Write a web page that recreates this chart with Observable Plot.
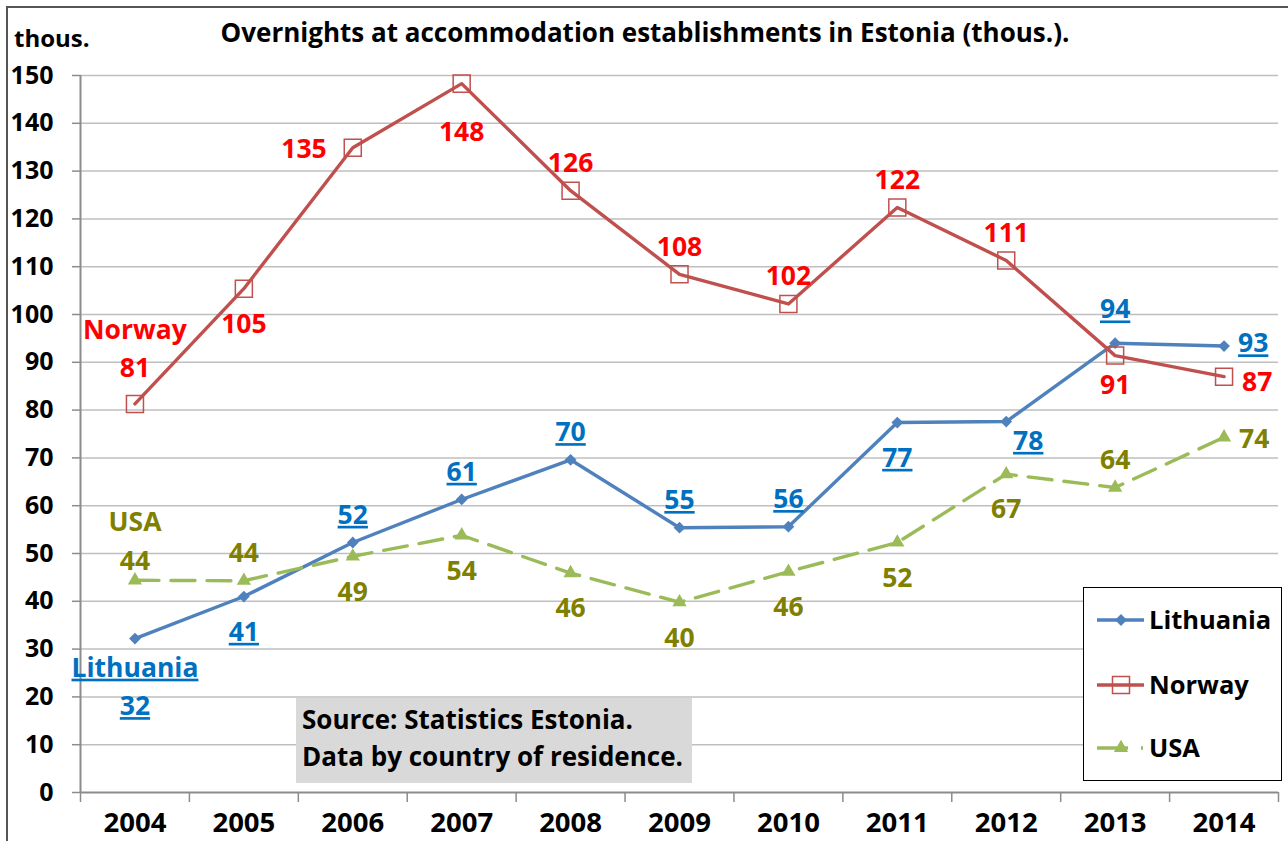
<!DOCTYPE html>
<html>
<head>
<meta charset="utf-8">
<script src="https://cdn.jsdelivr.net/npm/d3@7"></script>
<script src="https://cdn.jsdelivr.net/npm/@observablehq/plot@0.6"></script>
<style>
  body { margin: 0; background: #fff; }
  #wrap { position: relative; width: 1288px; height: 841px; overflow: hidden; font-family: "Open Sans", sans-serif; font-weight: bold; }
  #frame { position: absolute; left: 6px; top: 6px; width: 1300px; height: 900px; border-left: 2px solid #555; border-top: 2px solid #555; }
  #title { position: absolute; left: 0; width: 1290px; top: 13px; text-align: center; font-size: 26px; line-height: 38px; color: #000; }
  #unit { position: absolute; left: 14px; top: 25px; font-size: 24px; line-height: 25px; color: #000; }
  #source { position: absolute; left: 296px; top: 698px; width: 396px; height: 85px; background: #D9D9D9; font-size: 26px; line-height: 37px; color: #000; padding: 3px 0 0 6px; box-sizing: border-box; white-space: nowrap; }
  #legend { position: absolute; left: 1083px; top: 587px; width: 199px; height: 194px; border: 1.5px solid #000; background: #fff; box-sizing: border-box; }
  #chart { position: absolute; left: 0; top: 0; }
</style>
</head>
<body>
<div id="wrap">
  <div id="frame"></div>
  <div id="chart"></div>
  <div id="title"></div>
  <div id="unit"></div>
  <div id="source"></div>
  <div id="legend"></div>
</div>
<script>
// ---- data ----
const years = [2004, 2005, 2006, 2007, 2008, 2009, 2010, 2011, 2012, 2013, 2014];
const seriesNames = ["Lithuania", "Norway", "USA"];
const lithuania = [32.2, 41.0, 52.3, 61.3, 69.6, 55.4, 55.6, 77.4, 77.6, 94.0, 93.4];
const norway    = [81.3, 105.4, 134.9, 148.3, 125.9, 108.4, 102.2, 122.4, 111.3, 91.4, 87.0];
const usa       = [44.4, 44.3, 49.4, 53.8, 45.9, 39.8, 46.2, 52.3, 66.6, 63.8, 74.3];
const yTicks = [0, 10, 20, 30, 40, 50, 60, 70, 80, 90, 100, 110, 120, 130, 140, 150];
const titleText = "Overnights at accommodation establishments in Estonia (thous.).";
const unitText = "thous.";
const sourceLines = ["Source: Statistics Estonia.", "Data by country of residence."];

// label placement (Excel-style data label positions)
const lithuaniaLabelPos = ["below2", "below", "above", "above", "above", "above", "above", "below", "belowright", "abovefar", "rightup"];
const norwayLabelPos    = ["above2far", "below", "left", "belowfar", "above", "above", "above", "above", "above", "belownear", "rightdown"];
const usaLabelPos       = ["above2", "above", "below", "below", "below", "below", "below", "below", "below", "above", "right"];

// ---- styles ----
const lineColors  = {Lithuania: "#4F81BD", Norway: "#C0504D", USA: "#9BBB59"};
const labelColors = {Lithuania: "#0070C0", Norway: "#FF0000", USA: "#808000"};
const placements = {
  above:      {dx: 0,   dy: -31, textAnchor: "middle"},
  abovefar:   {dx: 0,   dy: -37, textAnchor: "middle"},
  below:      {dx: 0,   dy: 32,  textAnchor: "middle"},
  belownear:  {dx: 0,   dy: 26,  textAnchor: "middle"},
  belowfar:   {dx: 0,   dy: 45,  textAnchor: "middle"},
  right:      {dx: 15,  dy: -2,  textAnchor: "start"},
  rightup:    {dx: 14,  dy: -6,  textAnchor: "start"},
  rightdown:  {dx: 18,  dy: 2,   textAnchor: "start"},
  left:       {dx: -26, dy: -2,  textAnchor: "end"},
  above2:     {dx: 0,   dy: -42, textAnchor: "middle"},
  above2far:  {dx: 0,   dy: -58, textAnchor: "middle"},
  below2:     {dx: 0,   dy: 45,  textAnchor: "middle"},
  belowright: {dx: 22,  dy: 16,  textAnchor: "middle"}
};

const valuesBy = {Lithuania: lithuania, Norway: norway, USA: usa};
const posBy = {Lithuania: lithuaniaLabelPos, Norway: norwayLabelPos, USA: usaLabelPos};
const rows = [];
for (const s of seriesNames) {
  years.forEach((yr, i) => {
    const v = valuesBy[s][i];
    const pos = posBy[s][i];
    const txt = String(Math.round(v));
    rows.push({series: s, year: yr, value: v, pos, label: pos.startsWith("above2") || pos.startsWith("below2") ? s + "\n" + txt : txt});
  });
}
const bounds = d3.range(years[0] - 0.5, years[years.length - 1] + 1, 1);

const marks = [
  Plot.gridY(yTicks.filter(d => d > 0), {stroke: "#BFBFBF", strokeOpacity: 1, strokeWidth: 1.5}),
  Plot.ruleY([0], {stroke: "#8C8C8C", strokeWidth: 2}),
  Plot.ruleX([bounds[0]], {stroke: "#8C8C8C", strokeWidth: 2}),
  Plot.axisY(yTicks, {tickSize: 8, tickPadding: 19, stroke: "#8C8C8C", strokeWidth: 1.5, fill: "#000", fontSize: 25, label: null, tickFormat: d => String(d)}),
  Plot.axisX(bounds, {tickSize: 10, tickFormat: () => "", stroke: "#8C8C8C", strokeWidth: 1.5, label: null}),
  Plot.axisX(years, {tickSize: 0, tickPadding: 20, fill: "#000", fontSize: 27.5, label: null, tickFormat: d => String(d)})
];

const markerOpts = {
  Lithuania: {symbol: "diamond2", r: 5.3, fill: lineColors.Lithuania, stroke: "none"},
  Norway: {symbol: "square", r: 9.6, fill: "none", stroke: lineColors.Norway, strokeWidth: 1.5},
  USA: {symbol: "triangle2", r: 6.8, fill: lineColors.USA, stroke: "none"}
};

for (const s of seriesNames) {
  const d = rows.filter(r => r.series === s);
  marks.push(Plot.line(d, {
    x: "year", y: "value", stroke: lineColors[s], strokeWidth: 3.4,
    strokeDasharray: s === "USA" ? "24,12" : null, strokeLinejoin: "round", curve: "linear"
  }));
  marks.push(Plot.dot(d, {x: "year", y: "value", ...markerOpts[s]}));
}
for (const s of seriesNames) {
  const d = rows.filter(r => r.series === s);
  for (const [key, p] of Object.entries(placements)) {
    const sub = d.filter(r => r.pos === key);
    if (!sub.length) continue;
    marks.push(Plot.text(sub, {
      x: "year", y: "value", text: "label", dx: p.dx, dy: p.dy, textAnchor: p.textAnchor,
      lineAnchor: "middle", lineHeight: 1.45, fill: labelColors[s], fontSize: 26.5, fontWeight: "bold"
    }));
  }
}

const chart = Plot.plot({
  width: 1288, height: 841,
  marginTop: 75, marginBottom: 49, marginLeft: 80, marginRight: 10,
  x: {domain: [bounds[0], bounds[bounds.length - 1]], axis: null},
  y: {domain: [0, 150], axis: null},
  style: {fontFamily: "'Open Sans', sans-serif", fontWeight: "bold", background: "transparent", overflow: "visible", color: "#000"},
  marks
});
document.getElementById("chart").appendChild(chart);

// underline Lithuania labels
chart.querySelectorAll('g[fill="' + labelColors.Lithuania + '"] text').forEach(t => {
  t.style.textDecoration = "underline";
  t.style.textDecorationThickness = "2px";
  t.style.textUnderlineOffset = "4px";
});

// title, unit, source
document.getElementById("title").textContent = titleText;
document.getElementById("unit").textContent = unitText;
const src = document.getElementById("source");
sourceLines.forEach(l => { const div = document.createElement("div"); div.textContent = l; src.appendChild(div); });

// legend
const lg = d3.select("#legend").append("svg").attr("width", 196).attr("height", 191).style("display", "block");
const legendY = [32, 97, 160];
seriesNames.forEach((s, i) => {
  const g = lg.append("g").attr("transform", `translate(0,${legendY[i]})`);
  g.append("line").attr("x1", 13).attr("x2", 60).attr("y1", 0).attr("y2", 0)
    .attr("stroke", lineColors[s]).attr("stroke-width", 3.4)
    .attr("stroke-dasharray", s === "USA" ? "31,13,2,50" : null);
  const m = markerOpts[s];
  const sym = {diamond2: d3.symbolDiamond2, square: d3.symbolSquare, triangle2: d3.symbolTriangle2}[m.symbol];
  g.append("path").attr("transform", "translate(37,0)")
    .attr("d", d3.symbol(sym, m.r * m.r * Math.PI)())
    .attr("fill", m.fill).attr("stroke", m.stroke).attr("stroke-width", m.strokeWidth || 0);
  g.append("text").attr("x", 65).attr("y", 0).attr("dy", "0.35em")
    .attr("font-family", "'Open Sans', sans-serif").attr("font-weight", "bold").attr("font-size", 25.5)
    .attr("fill", "#000").text(s);
});
</script>
</body>
</html>
